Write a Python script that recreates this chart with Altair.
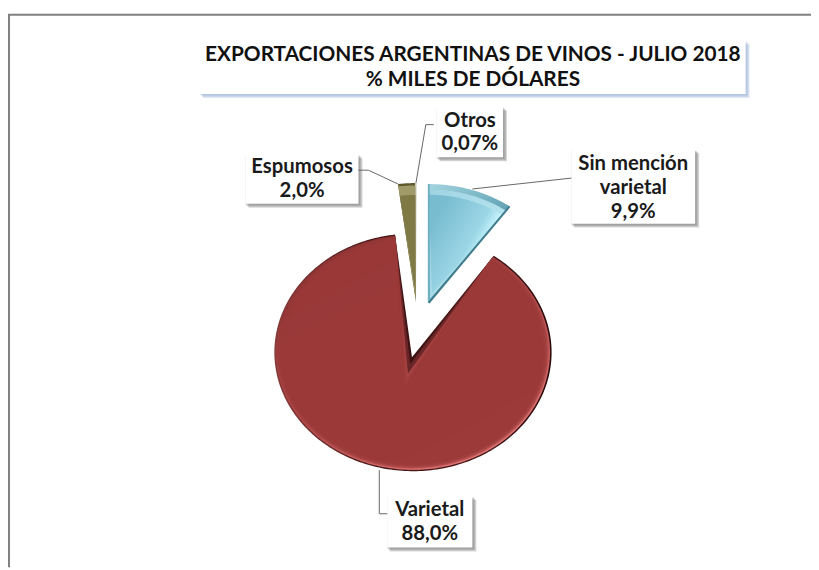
import math
import altair as alt
import pandas as pd

W, H = 811, 562
OX, OY = 8, 8

categories = ["Sin mención varietal", "Varietal", "Espumosos", "Otros"]
values = [9.9, 88.0, 2.0, 0.07]
centers_x = [433, 417, 420, 421]
centers_y = [303, 353, 302, 302]
apex_x = [433, 416, 420, 421]
apex_y = [303, 358, 302, 302]
radius_x = 140
radius_y = 120


def grad(x1, y1, x2, y2, *stops):
    n = len(stops) - 1
    parsed = [s if isinstance(s, tuple) else (i / n, s) for i, s in enumerate(stops)]
    return {"gradient": "linear", "x1": x1, "y1": y1, "x2": x2, "y2": y2,
            "stops": [{"offset": o, "color": c} for o, c in parsed]}


red = "#9c3a3a"
# bevel layers, rim to middle: (rim scale, apex shift, fill, opacity)
bevels = {
    "Varietal": [
        (1.0, 0, grad(0, 0.5, 1, 0.5, (0, "#8a3a3a"), (0.42, "#3a1010"), (0.7, "#4a1819"), (1, "#220708")), 1),
        (0.992, 7, grad(0, 0.5, 1, 0.5, (0, "#8a3a3a"), (0.42, "#6a2425"), (0.7, "#6e2829"), (1, "#4a1516")), 1),
        (0.988, 17, grad(0.2, 0.1, 0.75, 1, "#8c3333", "#b04a4a", "#ee8282"), 1),
    ] + [(0.98 - k * 0.007, 18 + k * 3, red, 0.42) for k in range(7)],
    "Sin mención varietal": [
        (1.0, 0, grad(0, 0, 0.6, 1, (0, "#a5d5e0"), (0.5, "#6aaabb"), (1, "#3f7c8c")), 1),
        (0.955, 4, grad(0, 0, 1, 0.6, "#9fd3e2", "#b8e6f0"), 1),
        (0.91, 10, grad(0.1, 0.2, 0.8, 0.75, (0, "#78bcd0"), (0.6, "#9bd6e6"), (0.78, "#c6f4fc"), (1, "#b5ecf6")), 1),
    ],
    "Espumosos": [
        (1.0, 0, "#5f5a2e", 1),
        (0.98, 3, "#a09a68", 1),
        (0.9, 12, "#7f7a45", 1),
    ],
    "Otros": [(1.0, 0, "#cfcdbd", 1)],
}
# colours of the two straight edges (start edge, end edge) where they are drawn
edge_colours = {"Sin mención varietal": ("#6fb0c2", "#3f7c8c")}

title_lines = ["EXPORTACIONES ARGENTINAS DE VINOS - JULIO 2018", "% MILES DE DÓLARES"]
title_y = [53, 78]
label_lines = [["Otros", "0,07%"], ["Espumosos", "2,0%"], ["Sin mención", "varietal", "9,9%"], ["Varietal", "88,0%"]]
label_y = [[119, 143], [166, 190], [163, 187, 211], [512, 536]]
label_boxes = [(441, 105, 508, 156), (248, 153, 362, 203), (577, 148, 702, 223), (391, 498, 477, 550)]
leaders = [
    [(420, 182), (430, 123), (438, 123)],
    [(402, 183), (372, 169), (362, 169)],
    [(477, 188), (577, 177)],
    [(383, 472), (383, 516), (391, 516)],
]

xs = alt.Scale(domain=[0, W], range=[0, W], nice=False, zero=False)
ys = alt.Scale(domain=[0, H], range=[0, H], nice=False, zero=False)
X = lambda f: alt.X(f, type="quantitative", scale=xs, axis=None)
Y = lambda f: alt.Y(f, type="quantitative", scale=ys, axis=None)

layers = []

# outer frame
frame = pd.DataFrame({"x": [1, 1, W], "y": [H, 4, 4]})
frame["i"] = range(3)
layers.append(alt.Chart(frame).mark_line(color="#808080", strokeWidth=2).encode(X("x"), Y("y"), order="i:Q"))


def box(x0, y0, x1, y1, shadow, blur=4):
    out = []
    for k in range(blur, 0, -1):
        d = pd.DataFrame({"a": [x0 - OX + k - 1], "b": [y0 - OY + k], "c": [x1 - OX + k], "e": [y1 - OY + k]})
        out.append(alt.Chart(d).mark_rect(color=shadow, opacity=0.3).encode(X("a"), Y("b"), x2="c:Q", y2="e:Q"))
    d = pd.DataFrame({"a": [x0 - OX], "b": [y0 - OY], "c": [x1 - OX], "e": [y1 - OY]})
    out.append(alt.Chart(d).mark_rect(color="white").encode(X("a"), Y("b"), x2="c:Q", y2="e:Q"))
    return out


layers += box(202, 38, 753, 92, "#9db4d6")
for b in label_boxes:
    layers += box(*b, "#7f7f7f")

for pts in leaders:
    d = pd.DataFrame({"x": [p[0] - OX for p in pts], "y": [p[1] - OY for p in pts], "i": range(len(pts))})
    layers.append(alt.Chart(d).mark_line(color="#666666", strokeWidth=1).encode(X("x"), Y("y"), order="i:Q"))

# slices: ellipse sectors built from the shares
total = sum(values)
start = 0.0
for cat, val, cx, cy, ax, ay in zip(categories, values, centers_x, centers_y, apex_x, apex_y):
    t0 = start / total * 2 * math.pi
    t1 = (start + val) / total * 2 * math.pi
    start += val
    mid = (t0 + t1) / 2
    n = max(2, int(val * 3))
    for scale, shift, fill, op in bevels[cat]:
        # the apex slides along the bisector; the rim shrinks about the ellipse centre
        sx = ax + shift * math.sin(mid)
        sy = ay - shift * math.cos(mid)
        rows = [(sx - OX, sy - OY)]
        for j in range(n + 1):
            t = t0 + (t1 - t0) * j / n
            rows.append((cx - OX + scale * radius_x * math.sin(t), cy - OY - scale * radius_y * math.cos(t)))
        rows.append((sx - OX, sy - OY))
        d = pd.DataFrame(rows, columns=["x", "y"])
        d["i"] = range(len(d))
        d["category"] = cat
        layers.append(
            alt.Chart(d).mark_line(fill=fill, fillOpacity=op, strokeWidth=0).encode(X("x"), Y("y"), order="i:Q")
        )
    if cat in edge_colours:
        for t, colour in zip((t0, t1), edge_colours[cat]):
            d = pd.DataFrame({
                "x": [ax - OX, cx - OX + radius_x * math.sin(t)],
                "y": [ay - OY, cy - OY - radius_y * math.cos(t)],
                "i": [0, 1],
            })
            layers.append(alt.Chart(d).mark_line(color=colour, strokeWidth=2).encode(X("x"), Y("y"), order="i:Q"))

FONT = "Lato"
d = pd.DataFrame({"t": title_lines, "x": [477.5 - OX] * 2, "y": [v - OY for v in title_y]})
layers.append(
    alt.Chart(d).mark_text(font=FONT, fontWeight="bold", fontSize=21, color="#111111", align="center", baseline="middle").encode(X("x"), Y("y"), text="t:N")
)
rows = []
for lines, ly, (x0, y0, x1, y1) in zip(label_lines, label_y, label_boxes):
    for t, yy in zip(lines, ly):
        rows.append({"t": t, "x": (x0 + x1) / 2 - OX, "y": yy - OY})
layers.append(
    alt.Chart(pd.DataFrame(rows)).mark_text(font=FONT, fontWeight="bold", fontSize=20.5, color="#1a1a1a", align="center", baseline="middle").encode(X("x"), Y("y"), text="t:N")
)

chart = (
    alt.layer(*layers)
    .properties(width=W, height=H, padding=0, background="white", autosize=alt.AutoSizeParams(type="none"))
    .configure_view(stroke=None)
)
chart.save("out.html", embed_options={"renderer": "svg", "actions": False})
